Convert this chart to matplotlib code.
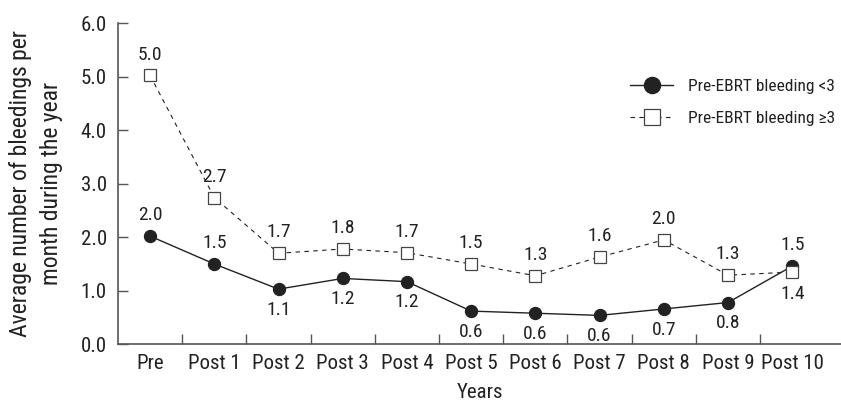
import matplotlib
matplotlib.use("Agg")
import matplotlib.pyplot as plt
from matplotlib import font_manager

## look for a narrow sans face, the reference uses a condensed Helvetica
fonts = font_manager.fontManager.ttflist
narrow = None
for cand in ['Liberation Sans Narrow', 'DejaVu Sans Condensed', 'Roboto Condensed',
             'Open Sans Condensed', 'Noto Sans Condensed']:
    if any(f.name == cand for f in fonts):
        narrow = cand
        break
if narrow is None:
    for f in fonts:
        if f.stretch in ('condensed', 'semi-condensed', 'extra-condensed') and f.name in (
                'DejaVu Sans', 'Noto Sans', 'Roboto', 'Open Sans', 'Liberation Sans'):
            narrow = f.name
            plt.rcParams['font.stretch'] = f.stretch
            break

if narrow:
    plt.rcParams['font.family'] = [narrow, 'Liberation Sans', 'DejaVu Sans']
    fs = 15
else:
    plt.rcParams['font.family'] = ['Liberation Sans', 'DejaVu Sans']
    fs = 12.5

## data
years = ["Pre", "Post 1", "Post 2", "Post 3", "Post 4", "Post 5",
         "Post 6", "Post 7", "Post 8", "Post 9", "Post 10"]
low_vals = [2.02, 1.50, 1.03, 1.23, 1.17, 0.62, 0.58, 0.54, 0.66, 0.78, 1.46]
low_labels = ["2.0", "1.5", "1.1", "1.2", "1.2", "0.6", "0.6", "0.6", "0.7", "0.8", "1.5"]
high_vals = [5.02, 2.74, 1.70, 1.78, 1.71, 1.50, 1.28, 1.63, 1.95, 1.29, 1.35]
high_labels = ["5.0", "2.7", "1.7", "1.8", "1.7", "1.5", "1.3", "1.6", "2.0", "1.3", "1.4"]
yticks = [0, 1, 2, 3, 4, 5, 6]

# which labels go above (circles) / below (squares) the marker
low_above = [0, 1, 10]
high_below = [10]

ink = "#222222"
x = list(range(len(years)))

fig = plt.figure(figsize=(8.41, 4.01), dpi=100)
ax = fig.add_axes([0.1403, 0.1414, 0.8597, 0.8012])

ax.plot(x, low_vals, color=ink, lw=1.0, marker="o", markersize=8.6,
        markerfacecolor=ink, markeredgecolor=ink, label="Pre-EBRT bleeding <3", zorder=3)
ax.plot(x, high_vals, color=ink, lw=0.8, dashes=[4, 4], marker="s", markersize=8.2,
        markerfacecolor="white", markeredgecolor="#444444", markeredgewidth=0.9,
        label="Pre-EBRT bleeding \u22653", zorder=4)

for i in x:
    off = 15 if i in low_above else -15
    ax.annotate(low_labels[i], (i, low_vals[i]), xytext=(0, off), textcoords="offset points",
                ha="center", va="center", fontsize=fs - 1, color=ink)
    off = -16 if i in high_below else 15
    ax.annotate(high_labels[i], (i, high_vals[i]), xytext=(0, off), textcoords="offset points",
                ha="center", va="center", fontsize=fs - 1, color=ink)

ax.set_xlim(-0.5, 10.76)
ax.set_ylim(0, 6)
ax.spines['top'].set_visible(False)
ax.spines['right'].set_visible(False)
for s in ['left', 'bottom']:
    ax.spines[s].set_color("#555555")
    ax.spines[s].set_linewidth(1.2)

ax.set_yticks(yticks)
ax.set_yticklabels(["%.1f" % v for v in yticks])
ax.tick_params(axis='y', direction='in', length=7, width=1.0, color="#555555",
               labelsize=fs, pad=8, labelcolor=ink)

# category labels at the points, tick marks between them
ax.set_xticks(x)
ax.set_xticklabels(years)
ax.tick_params(axis='x', which='major', length=0, labelsize=fs, pad=7, labelcolor=ink)
ax.set_xticks([i + 0.5 for i in x[:-1]], minor=True)
ax.tick_params(axis='x', which='minor', direction='in', length=7, width=1.0, color="#555555")

ax.set_xlabel("Years", fontsize=fs, color=ink, labelpad=7)
ax.set_ylabel("Average number of bleedings per\nmonth during the year", fontsize=fs + 2,
              color=ink, labelpad=13, linespacing=1.4)

leg = ax.legend(loc="center left", bbox_to_anchor=(630 / 841, 1 - 102.5 / 401),
                bbox_transform=fig.transFigure, frameon=False, fontsize=12.5,
                handlelength=2.5, handletextpad=0.85, labelspacing=1.0,
                borderpad=0, borderaxespad=0, markerscale=1.35)
for t in leg.get_texts():
    t.set_color(ink)

fig.savefig("out.png", dpi=100)
